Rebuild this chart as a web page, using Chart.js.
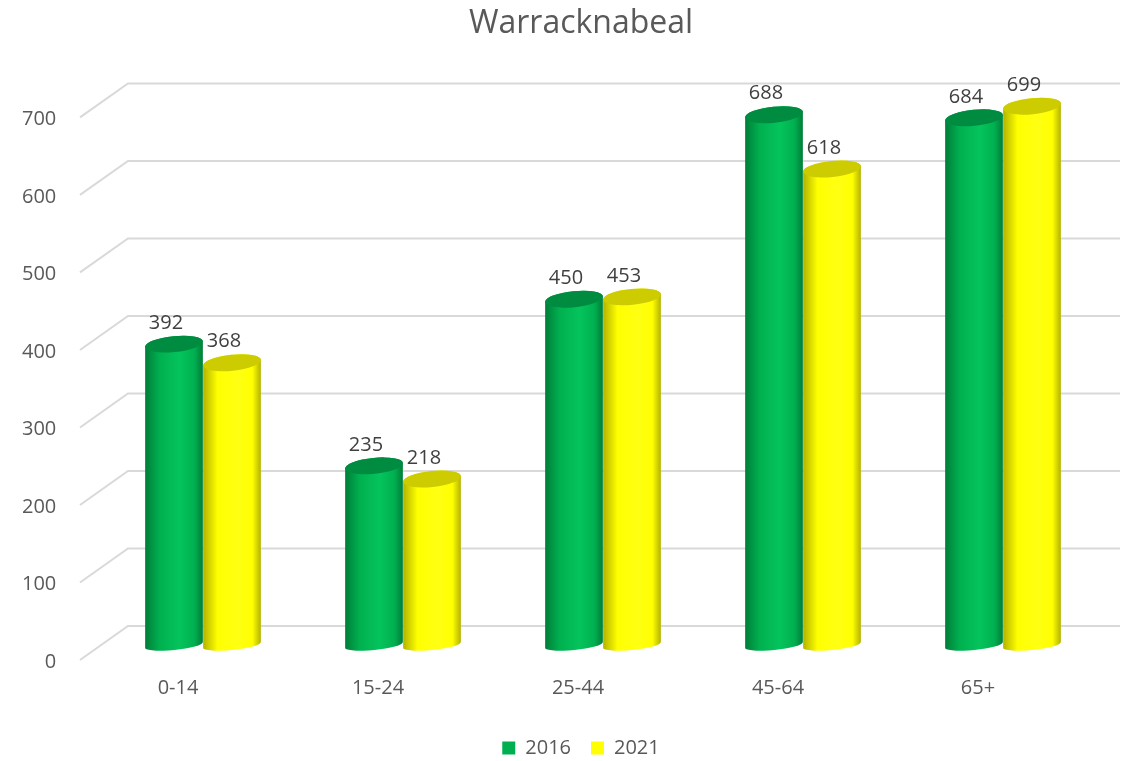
<!DOCTYPE html>
<html>
<head>
<meta charset="utf-8">
<script src="https://cdn.jsdelivr.net/npm/chart.js@4.4.1/dist/chart.umd.min.js"></script>
<style>
  html, body { margin: 0; padding: 0; background: #fff; }
  #wrap { width: 1137px; height: 761px; }
</style>
</head>
<body>
<div id="wrap"><canvas id="grafico"></canvas></div>
<script>
var faixas = ["0-14", "15-24", "25-44", "45-64", "65+"];
var anos = ["2016", "2021"];
var valores2016 = [392, 235, 450, 688, 684];
var valores2021 = [368, 218, 453, 618, 699];
var marcas = [0, 100, 200, 300, 400, 500, 600, 700];

var cores = [
  { base: '#00B050', claro: '#05c45c', escuro: '#007d38', topo: '#008c40' },
  { base: '#FFFF00', claro: '#ffff14', escuro: '#b2b200', topo: '#cccc00' }
];

var fonte = '"Open Sans", "Liberation Sans", sans-serif';
Chart.defaults.font.family = fonte;
Chart.defaults.color = '#595959';

// back wall lines with the little diagonal going to the front edge
var grade3d = {
  id: 'grade3d',
  beforeDatasetsDraw: function (chart) {
    var ctx = chart.ctx, y = chart.scales.y, area = chart.chartArea;
    ctx.save();
    ctx.strokeStyle = '#d9d9d9';
    ctx.lineWidth = 2;
    marcas.forEach(function (v) {
      var py = y.getPixelForValue(v);
      ctx.beginPath();
      ctx.moveTo(area.left - 23, py + 12);
      ctx.lineTo(area.left + 25, py - 22);
      ctx.lineTo(area.right + 17, py - 22);
      ctx.stroke();
    });
    ctx.restore();
  }
};

function cilindro(ctx, bar, c) {
  var rx = bar.width / 2, ry = 8, ryBase = 5, giro = -0.1;
  var esq = bar.x - rx, dir = bar.x + rx;
  var topo = bar.y, fundo = bar.base - 3;
  var g = ctx.createLinearGradient(esq, 0, dir, 0);
  g.addColorStop(0, c.escuro);
  g.addColorStop(0.25, c.base);
  g.addColorStop(0.6, c.claro);
  g.addColorStop(0.85, c.base);
  g.addColorStop(1, c.escuro);

  ctx.beginPath();
  ctx.ellipse(bar.x, fundo, rx, ryBase, giro, Math.PI, 0, true);
  ctx.ellipse(bar.x, topo, rx, ry, giro, 0, Math.PI, true);
  ctx.closePath();
  ctx.fillStyle = g;
  ctx.fill();

  ctx.beginPath();
  ctx.ellipse(bar.x, topo, rx, ry, giro, 0, Math.PI * 2);
  ctx.fillStyle = c.topo;
  ctx.fill();
}

var cilindros = {
  id: 'cilindros',
  beforeDatasetDraw: function () { return false; },
  afterDatasetsDraw: function (chart) {
    var ctx = chart.ctx;
    ctx.save();
    for (var i = 0; i < faixas.length; i++) {
      for (var d = 0; d < anos.length; d++) {
        cilindro(ctx, chart.getDatasetMeta(d).data[i], cores[d]);
      }
    }
    // value labels above each cylinder
    ctx.font = '20px ' + fonte;
    ctx.fillStyle = '#404040';
    ctx.textAlign = 'center';
    ctx.textBaseline = 'middle';
    for (var d2 = 0; d2 < anos.length; d2++) {
      var meta = chart.getDatasetMeta(d2);
      var dados = chart.data.datasets[d2].data;
      meta.data.forEach(function (bar, i) {
        ctx.fillText(dados[i], bar.x - 8, bar.y - 21);
      });
    }
    ctx.restore();
  }
};

var grafico = new Chart(document.getElementById('grafico'), {
  type: 'bar',
  data: {
    labels: faixas,
    datasets: [
      { label: anos[0], data: valores2016, backgroundColor: cores[0].base },
      { label: anos[1], data: valores2021, backgroundColor: cores[1].base }
    ]
  },
  options: {
    responsive: true,
    maintainAspectRatio: false,
    animation: false,
    categoryPercentage: 0.58,
    barPercentage: 1,
    layout: { padding: { left: 59, right: 34, top: 0, bottom: -7 } },
    plugins: {
      title: {
        display: true,
        text: 'Warracknabeal',
        color: '#595959',
        font: { size: 32, weight: 'normal' },
        padding: { top: 5, bottom: 62 }
      },
      legend: {
        position: 'bottom',
        labels: { boxWidth: 13, boxHeight: 13, padding: 20, font: { size: 20 }, color: '#595959' }
      },
      tooltip: { enabled: false }
    },
    scales: {
      x: {
        grid: { display: false, drawTicks: false },
        border: { display: false },
        ticks: { labelOffset: -25, padding: 28, font: { size: 20 }, color: '#595959' },
        afterFit: function (s) { s.height = 70; }
      },
      y: {
        min: 0,
        max: 700,
        grid: { display: false, drawTicks: false },
        border: { display: false },
        // labels sit left of the narrow axis box, right aligned
        ticks: { stepSize: 100, mirror: true, crossAlign: 'far', labelOffset: 14, padding: -81, font: { size: 20 }, color: '#595959' },
        afterFit: function (s) { s.width = 44; }
      }
    }
  },
  plugins: [grade3d, cilindros]
});
</script>
</body>
</html>
